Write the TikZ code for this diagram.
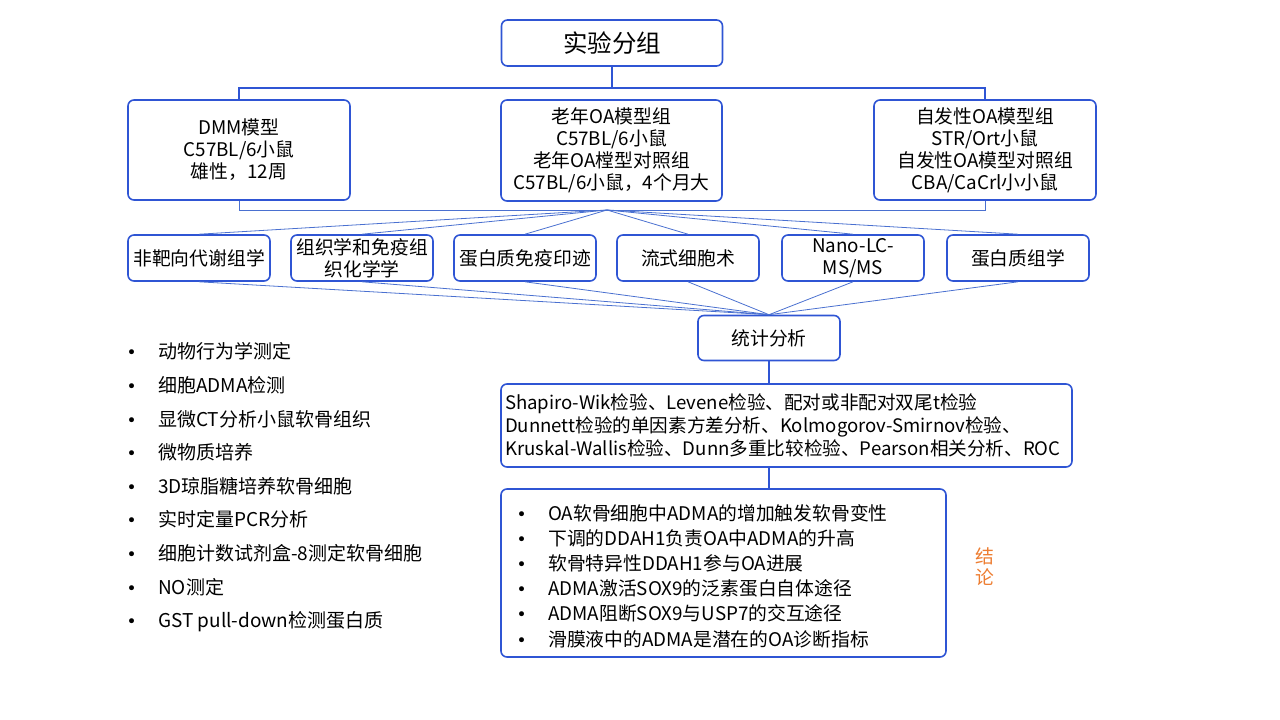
\documentclass[tikz,border=0pt]{standalone}
\usepackage{fontspec}
\setmainfont{Noto Sans CJK SC}
\newfontfamily\bulletfont{DejaVu Sans}
\definecolor{boxblue}{HTML}{2F55D4}
\definecolor{linkblue}{HTML}{4A70D0}
\definecolor{concorange}{HTML}{ED7D31}
\tikzset{
  box/.style={draw=boxblue, line width=1.6pt, rounded corners=6pt, fill=white,
    align=center, inner sep=2pt, font=\fontsize{18.8}{22}\selectfont},
  methodbox/.style={box, minimum width=142pt, minimum height=46pt},
  thicklink/.style={draw=boxblue, line width=1.6pt},
  thinlink/.style={draw=linkblue, line width=0.8pt},
  plaintext/.style={inner sep=0pt, align=left},
}
\newcommand{\bulletitem}[1]{\makebox[30pt][l]{\hspace{-1.5pt}{\bulletfont\fontsize{17}{17}\selectfont •}}#1}
\begin{document}
\begin{tikzpicture}[x=1pt,y=-1pt]
\useasboundingbox (0,0) rectangle (1280,720);

% title
\node[box, minimum width=221pt, minimum height=46pt, font=\fontsize{24.5}{28}\selectfont] (title) at (612,43) {实验分组};

% groups
\node[box, minimum width=222pt, minimum height=100pt] (dmm) at (239,150) {DMM模型\\C57BL/6小鼠\\雄性，12周};
\node[box, minimum width=221pt, minimum height=101pt] (old) at (611.5,150.5) {老年OA模型组\\C57BL/6小鼠\\老年OA樘型对照组\\C57BL/6小鼠，4个月大};
\node[box, minimum width=222pt, minimum height=100pt] (spont) at (985,150) {自发性OA模型组\\STR/Ort小鼠\\自发性OA模型对照组\\CBA/CaCrl小小鼠};

% bus coordinates
\coordinate (busA) at (612,88);
\coordinate (busB) at (607,210);

\draw[thicklink] (title.south) -- (busA);
\draw[thicklink] (busA) -| (dmm.north);
\draw[thicklink] (busA) -| (spont.north);

\draw[thinlink] (dmm.south) |- (busB);
\draw[thinlink] (spont.south) |- (busB);

% methods
\node[methodbox] (m1) at (199,258) {非靶向代谢组学};
\node[methodbox] (m2) at (362,258) {组织学和免疫组\\织化学学};
\node[methodbox] (m3) at (525,258) {蛋白质免疫印迹};
\node[methodbox] (m4) at (688,258) {流式细胞术};
\node[methodbox] (m5) at (853,258) {Nano-LC-\\MS/MS};
\node[methodbox] (m6) at (1018,258) {蛋白质组学};

\node[box, minimum width=142pt, minimum height=45pt] (stat) at (769,338) {统计分析};

\foreach \m in {m1,m2,m3,m4,m5,m6}{
  \draw[thinlink] (busB) -- (\m.north);
  \draw[thinlink] (\m.south) -- (stat.north);
}

% stats methods
\node[box, minimum width=571pt, minimum height=83pt, text width=563pt, inner sep=4pt, align=left,
  font=\fontsize{18.6}{23}\selectfont] (tests) at (786.5,425.5)
  {Shapiro-Wik检验、Levene检验、配对或非配对双尾t检验\\
   Dunnett检验的单因素方差分析、Kolmogorov-Smirnov检验、\\
   Kruskal-Wallis检验、Dunn多重比较检验、Pearson相关分析、ROC};
\draw[thicklink] (stat.south) -- (stat.south |- tests.north);

% conclusions
\node[box, minimum width=445pt, minimum height=168pt] (concl) at (723.5,573) {};
\draw[thicklink] (stat.south |- tests.south) -- (stat.south |- concl.north);
\node[plaintext, anchor=west, font=\fontsize{18.8}{25.2}\selectfont] (conclist) at (518,576)
  {\bulletitem{OA软骨细胞中ADMA的增加触发软骨变性}\\
   \bulletitem{下调的DDAH1负责OA中ADMA的升高}\\
   \bulletitem{软骨特异性DDAH1参与OA进展}\\
   \bulletitem{ADMA激活SOX9的泛素蛋白自体途径}\\
   \bulletitem{ADMA阻断SOX9与USP7的交互途径}\\
   \bulletitem{滑膜液中的ADMA是潜在的OA诊断指标}};
\node[plaintext, align=center, text=concorange, font=\fontsize{18.8}{21}\selectfont] (conclabel) at (985,567) {结\\论};

% left list
\node[plaintext, anchor=west, font=\fontsize{19}{33.6}\selectfont] (leftlist) at (128,487.5)
  {\bulletitem{动物行为学测定}\\
   \bulletitem{细胞ADMA检测}\\
   \bulletitem{显微CT分析小鼠软骨组织}\\
   \bulletitem{微物质培养}\\
   \bulletitem{3D琼脂糖培养软骨细胞}\\
   \bulletitem{实时定量PCR分析}\\
   \bulletitem{细胞计数试剂盒-8测定软骨细胞}\\
   \bulletitem{NO测定}\\
   \bulletitem{GST pull-down检测蛋白质}};
\end{tikzpicture}
\end{document}
